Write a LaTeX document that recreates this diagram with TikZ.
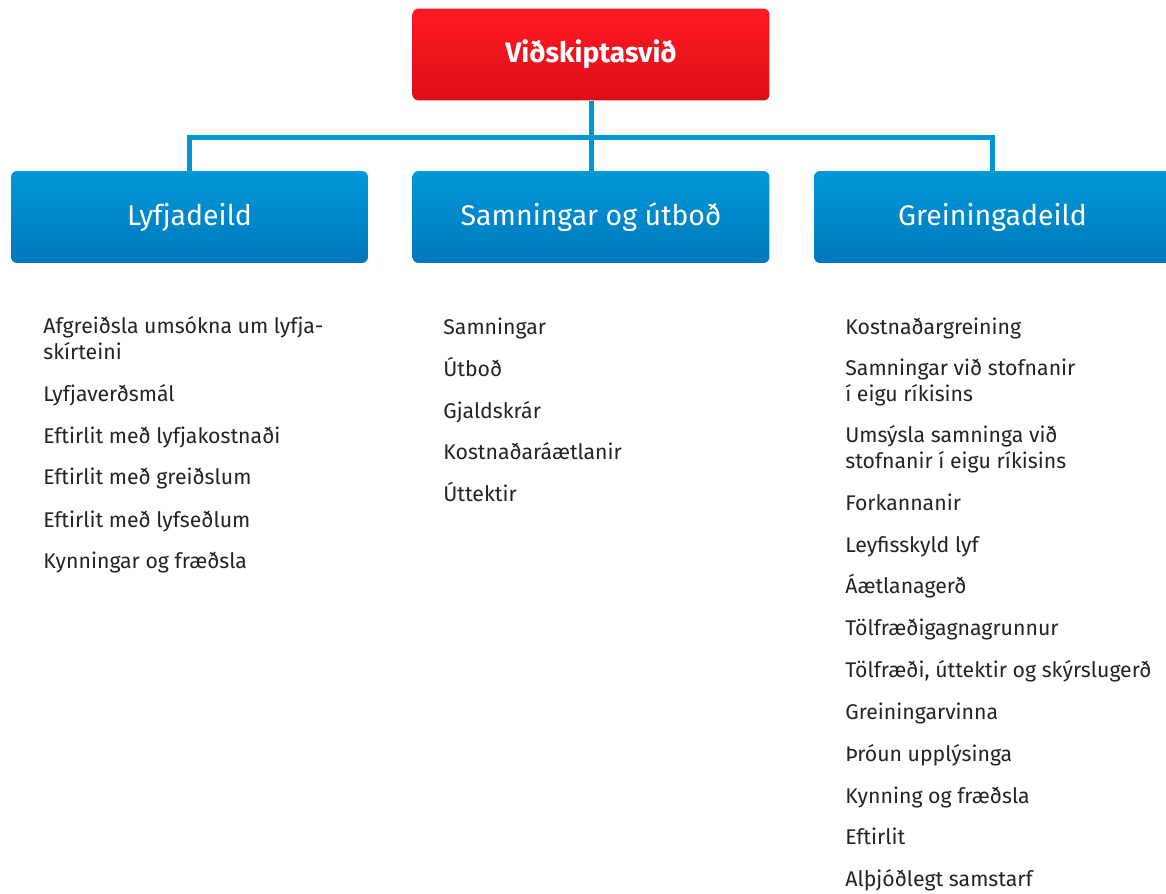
\documentclass[tikz,border=0pt]{standalone}
\usepackage{fontspec}
\setmainfont{Fira Sans}
\usepackage{xcolor}
\usepackage{tikz}
\definecolor{boxblue}{RGB}{0,152,216}
\definecolor{boxbluedark}{RGB}{0,120,188}
\definecolor{boxred}{RGB}{255,26,36}
\definecolor{boxreddark}{RGB}{220,14,22}
\definecolor{linkblue}{RGB}{0,150,214}
\definecolor{itemgray}{RGB}{35,35,35}
\tikzset{
    unit/.style={rounded corners=0.12cm, minimum width=7.14cm, minimum height=1.84cm,
        top color=boxblue, bottom color=boxbluedark, text=white, font=\fontsize{16.2}{19}\selectfont},
    head/.style={unit, top color=boxred, bottom color=boxreddark, font=\fontsize{16}{19}\selectfont\bfseries},
    task/.style={anchor=base west, inner sep=0pt, align=left, text=itemgray,
        font=\fontsize{12.1}{14.8}\selectfont},
    link/.style={linkblue, line width=0.1cm}
}

\begin{document}
\begin{tikzpicture}[x=0.02cm, y=-0.02cm]
        \useasboundingbox (0,0) rectangle (1166,893);
        \node[head] (svid) at (591,54.5) {Viðskiptasvið};
        \node[unit] (lyf) at (189.5,217) {Lyfjadeild};
        \node[unit] (samn) at (591,217) {Samningar og útboð};
        \node[unit] (grein) at (992.5,217) {Greiningadeild};
        \coordinate (bus) at (591,137);
        \draw[link] (svid.south) -- (samn.north);
        \draw[link] (lyf.north) |- (bus) -| (grein.north);
        % Lyfjadeild
        \node[task] (lyf1) at (43,359) {Afgreiðsla umsókna um lyfja-\\skírteini};
        \node[task] (lyf2) at (43,401) {Lyfjaverðsmál};
        \node[task] (lyf3) at (43,443) {Eftirlit með lyfjakostnaði};
        \node[task] (lyf4) at (43,484) {Eftirlit með greiðslum};
        \node[task] (lyf5) at (43,527) {Eftirlit með lyfseðlum};
        \node[task] (lyf6) at (43,568) {Kynningar og fræðsla};
        % Samningar og utbod
        \node[task] (samn1) at (443,334) {Samningar};
        \node[task] (samn2) at (443,376) {Útboð};
        \node[task] (samn3) at (443,418) {Gjaldskrár};
        \node[task] (samn4) at (443,459) {Kostnaðaráætlanir};
        \node[task] (samn5) at (443,501) {Úttektir};
        % Greiningadeild
        \node[task] (grein1) at (845,334) {Kostnaðargreining};
        \node[task] (grein2) at (845,401) {Samningar við stofnanir\\í eigu ríkisins};
        \node[task] (grein3) at (845,468) {Umsýsla samninga við\\stofnanir í eigu ríkisins};
        \node[task] (grein4) at (845,510) {Forkannanir};
        \node[task] (grein5) at (845,552) {Leyfisskyld lyf};
        \node[task] (grein6) at (845,593) {Áætlanagerð};
        \node[task] (grein7) at (845,635) {Tölfræðigagnagrunnur};
        \node[task] (grein8) at (845,677) {Tölfræði, úttektir og skýrslugerð};
        \node[task] (grein9) at (845,719) {Greiningarvinna};
        \node[task] (grein10) at (845,761) {Þróun upplýsinga};
        \node[task] (grein11) at (845,803) {Kynning og fræðsla};
        \node[task] (grein12) at (845,844) {Eftirlit};
        \node[task] (grein13) at (845,886) {Alþjóðlegt samstarf};
\end{tikzpicture}
\end{document}
